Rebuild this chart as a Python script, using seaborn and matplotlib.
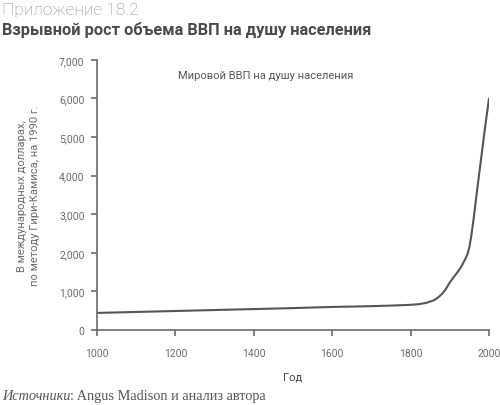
import numpy as np
import pandas as pd
import matplotlib
matplotlib.use("Agg")
import matplotlib.pyplot as plt
import seaborn as sns

# data
years = [1000, 1100, 1200, 1300, 1400, 1500, 1600, 1700, 1750, 1800, 1820,
         1840, 1860, 1870, 1880, 1890, 1900, 1910, 1920, 1930, 1940, 1945,
         1950, 1955, 1960, 1970, 1980, 1990, 2000]
gdp = [440, 465, 490, 515, 540, 565, 595, 615, 630, 650, 665,
       700, 770, 840, 930, 1060, 1230, 1370, 1500, 1650, 1850, 1960,
       2150, 2450, 2820, 3650, 4450, 5250, 6000]
xticks = [1000, 1200, 1400, 1600, 1800, 2000]
yticks = [0, 1000, 2000, 3000, 4000, 5000, 6000, 7000]
ytick_labels = ["0", "1,000", "2,000", "3,000", "4,000", "5,000", "6,000", "7,000"]

df = pd.DataFrame({"Год": years, "ВВП": gdp})

sns.set_theme(style="white")
plt.rcParams['font.family'] = ['Roboto', 'DejaVu Sans']

grey = "#6b6b6b"
fig = plt.figure(figsize=(5, 4.06), dpi=100)
ax = fig.add_axes([0.194, 0.185, 0.784, 0.665])

sns.lineplot(data=df, x="Год", y="ВВП", ax=ax, color="#555555", linewidth=1.5)

ax.set_xlim(1000, 2000)
ax.set_ylim(0, 7000)
ax.set_xticks(xticks)
ax.set_xticklabels([str(t) for t in xticks])
ax.set_yticks(yticks)
ax.set_yticklabels(ytick_labels)
ax.tick_params(axis="both", direction="out", length=4, width=1.2, color=grey,
               labelcolor=grey, labelsize=7.5, bottom=True, left=True)
ax.tick_params(axis="x", pad=9)
ax.tick_params(axis="y", pad=5)
sns.despine(ax=ax)
for s in ["left", "bottom"]:
    ax.spines[s].set_color(grey)
    ax.spines[s].set_linewidth(1.2)

ax.set_xlabel("Год", fontsize=8, color="#444444", labelpad=10)
ax.set_ylabel("В международных долларах,\nпо методу Гири-Камиса, на 1990 г.",
              fontsize=8, color=grey, labelpad=14, linespacing=1.3)

ax.text(0.43, 0.945, "Мировой ВВП на душу населения", transform=ax.transAxes,
        ha="center", va="center", fontsize=8, color="#555555")

fig.text(0.004, 0.974, "Приложение 18.2", fontsize=12.5, color="#8a8a8a",
         ha="left", va="center", fontweight="light")
fig.text(0.004, 0.926, "Взрывной рост объема ВВП на душу населения", fontsize=11.8,
         color="#4a4a4a", ha="left", va="center", fontweight="bold")

serif = ["Liberation Serif", "DejaVu Serif"]
t1 = fig.text(0.004, 0.024, "Источники", fontsize=10.3, color="#555555",
              ha="left", va="center", style="italic", family=serif)
fig.canvas.draw()
bb = t1.get_window_extent().transformed(fig.transFigure.inverted())
fig.text(bb.x1, 0.024, ": Angus Madison и анализ автора", fontsize=10.3,
         color="#555555", ha="left", va="center", family=serif)

fig.savefig("out.png", dpi=100)
